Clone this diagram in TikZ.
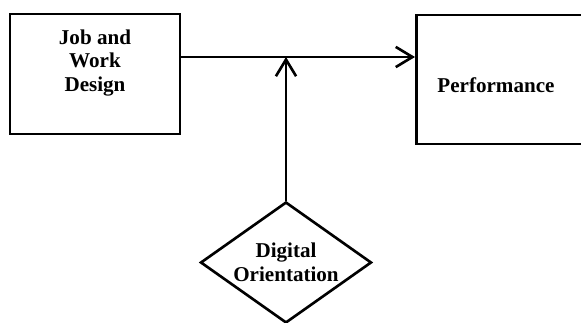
\documentclass[tikz,border=0pt]{standalone}
\usepackage{fontspec}
\setmainfont{Liberation Serif}
\usetikzlibrary{arrows.meta,shapes.geometric}
\begin{document}
\begin{tikzpicture}[line width=1.5pt,font=\bfseries\fontsize{12}{13.6}\selectfont,
  blk/.style={draw,minimum width=3.4cm,minimum height=2.4cm,inner sep=0},
  lbl/.style={align=center,inner sep=0},
  arr/.style={-{Straight Barb[length=9.5pt,width=11.5pt]}}]
\useasboundingbox(0,0)rectangle(11.62,6.46);\clip(0,0)rectangle(11.62,6.46);
\node[blk](jwd)at(1.9,4.98){};\node[lbl](jwdtext)at(1.9,5.2){Job and\\Work\\Design};
\node[blk,minimum width=3.6cm,minimum height=2.58cm,anchor=west](perf)at(8.3,4.87){};\node[lbl](perftext)at(9.92,4.76){Performance};
\node[draw,diamond,aspect=1.41,minimum width=3.42cm,minimum height=2.42cm,inner sep=0,align=center](dig)at(5.72,1.21){Digital\\Orientation};
\coordinate(join)at(5.72,5.32);
\draw[arr](join-|jwd.east)--(join-|perf.west);\draw[arr](dig.north)--(join);
\end{tikzpicture}
\end{document}
